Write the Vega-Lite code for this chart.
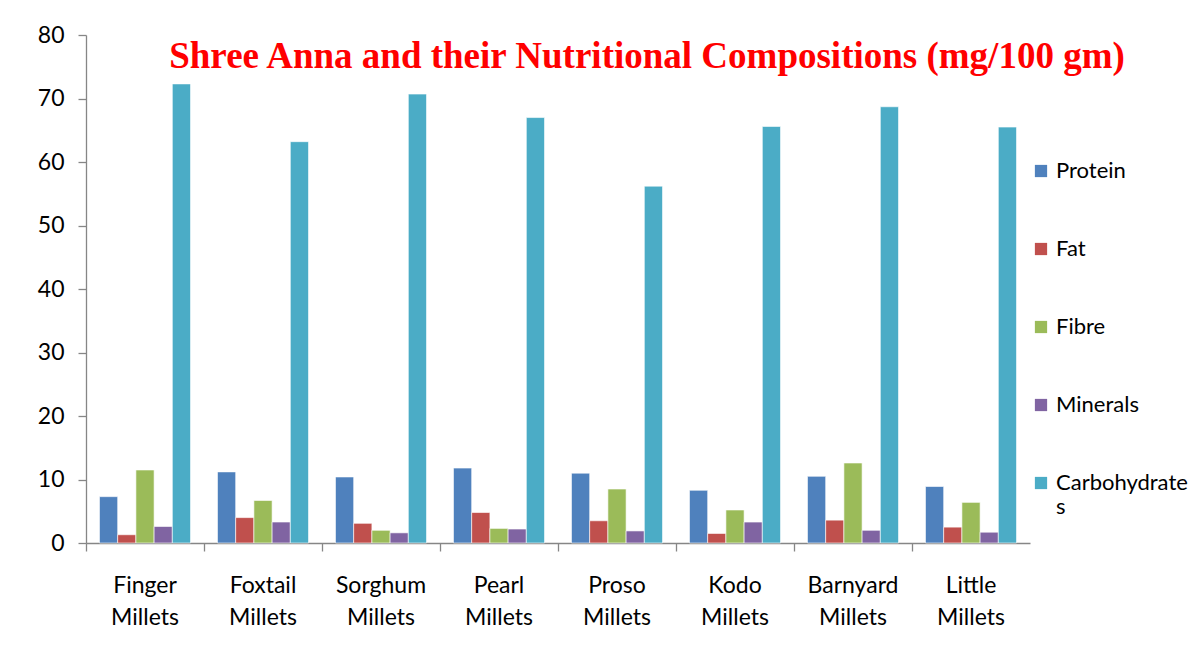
{
  "$schema": "https://vega.github.io/schema/vega-lite/v6.json",
  "autosize": "none",
  "width": 944,
  "height": 508,
  "padding": {"left": 86, "top": 35, "right": 171, "bottom": 113},
  "background": "white",
  "title": {
    "text": "Shree Anna and their Nutritional Compositions (mg/100 gm)",
    "font": "Liberation Serif",
    "fontWeight": "bold",
    "fontSize": 37,
    "color": "#FF0000",
    "anchor": "middle",
    "frame": "group",
    "dx": 89,
    "offset": -52
  },
  "data": {
    "values": [
      {"millet": "Finger Millets", "nutrient": "Protein", "value": 7.3},
      {"millet": "Finger Millets", "nutrient": "Fat", "value": 1.3},
      {"millet": "Finger Millets", "nutrient": "Fibre", "value": 11.5},
      {"millet": "Finger Millets", "nutrient": "Minerals", "value": 2.6},
      {"millet": "Finger Millets", "nutrient": "Carbohydrates", "value": 72.3},
      {"millet": "Foxtail Millets", "nutrient": "Protein", "value": 11.2},
      {"millet": "Foxtail Millets", "nutrient": "Fat", "value": 4.0},
      {"millet": "Foxtail Millets", "nutrient": "Fibre", "value": 6.7},
      {"millet": "Foxtail Millets", "nutrient": "Minerals", "value": 3.3},
      {"millet": "Foxtail Millets", "nutrient": "Carbohydrates", "value": 63.2},
      {"millet": "Sorghum Millets", "nutrient": "Protein", "value": 10.4},
      {"millet": "Sorghum Millets", "nutrient": "Fat", "value": 3.1},
      {"millet": "Sorghum Millets", "nutrient": "Fibre", "value": 2.0},
      {"millet": "Sorghum Millets", "nutrient": "Minerals", "value": 1.6},
      {"millet": "Sorghum Millets", "nutrient": "Carbohydrates", "value": 70.7},
      {"millet": "Pearl Millets", "nutrient": "Protein", "value": 11.8},
      {"millet": "Pearl Millets", "nutrient": "Fat", "value": 4.8},
      {"millet": "Pearl Millets", "nutrient": "Fibre", "value": 2.3},
      {"millet": "Pearl Millets", "nutrient": "Minerals", "value": 2.2},
      {"millet": "Pearl Millets", "nutrient": "Carbohydrates", "value": 67.0},
      {"millet": "Proso Millets", "nutrient": "Protein", "value": 11.0},
      {"millet": "Proso Millets", "nutrient": "Fat", "value": 3.5},
      {"millet": "Proso Millets", "nutrient": "Fibre", "value": 8.5},
      {"millet": "Proso Millets", "nutrient": "Minerals", "value": 1.9},
      {"millet": "Proso Millets", "nutrient": "Carbohydrates", "value": 56.2},
      {"millet": "Kodo Millets", "nutrient": "Protein", "value": 8.3},
      {"millet": "Kodo Millets", "nutrient": "Fat", "value": 1.5},
      {"millet": "Kodo Millets", "nutrient": "Fibre", "value": 5.2},
      {"millet": "Kodo Millets", "nutrient": "Minerals", "value": 3.3},
      {"millet": "Kodo Millets", "nutrient": "Carbohydrates", "value": 65.6},
      {"millet": "Barnyard Millets", "nutrient": "Protein", "value": 10.5},
      {"millet": "Barnyard Millets", "nutrient": "Fat", "value": 3.6},
      {"millet": "Barnyard Millets", "nutrient": "Fibre", "value": 12.6},
      {"millet": "Barnyard Millets", "nutrient": "Minerals", "value": 2.0},
      {"millet": "Barnyard Millets", "nutrient": "Carbohydrates", "value": 68.7},
      {"millet": "Little Millets", "nutrient": "Protein", "value": 8.9},
      {"millet": "Little Millets", "nutrient": "Fat", "value": 2.5},
      {"millet": "Little Millets", "nutrient": "Fibre", "value": 6.4},
      {"millet": "Little Millets", "nutrient": "Minerals", "value": 1.7},
      {"millet": "Little Millets", "nutrient": "Carbohydrates", "value": 65.5}
    ]
  },
  "mark": {"type": "bar", "stroke": "#ffffff", "strokeWidth": 1, "strokeOpacity": 0.6},
  "encoding": {
    "x": {
      "field": "millet",
      "type": "nominal",
      "sort": null,
      "scale": {"paddingInner": 0, "paddingOuter": 0},
      "axis": {
        "title": null,
        "labelAngle": 0,
        "bandPosition": 0,
        "labelExpr": "split(datum.label, ' ')",
        "labelFont": "Lato",
        "labelFontSize": 23,
        "labelColor": "#000000",
        "labelLineHeight": 32,
        "labelPadding": 23,
        "domainColor": "#868686",
        "tickColor": "#868686",
        "tickSize": 8,
        "domainWidth": 1.3,
        "tickWidth": 1.3
      }
    },
    "xOffset": {
      "field": "nutrient",
      "type": "nominal",
      "sort": ["Protein", "Fat", "Fibre", "Minerals", "Carbohydrates"],
      "scale": {"paddingInner": 0, "paddingOuter": 0.74}
    },
    "y": {
      "field": "value",
      "type": "quantitative",
      "scale": {"domain": [0, 80], "nice": false},
      "axis": {
        "title": null,
        "values": [0, 10, 20, 30, 40, 50, 60, 70, 80],
        "grid": false,
        "labelFont": "Lato",
        "labelFontSize": 23,
        "labelColor": "#000000",
        "labelPadding": 14,
        "domainColor": "#868686",
        "tickColor": "#868686",
        "tickSize": 8,
        "domainWidth": 1.3,
        "tickWidth": 1.3
      }
    },
    "color": {
      "field": "nutrient",
      "type": "nominal",
      "sort": ["Protein", "Fat", "Fibre", "Minerals", "Carbohydrates"],
      "scale": {
        "domain": ["Protein", "Fat", "Fibre", "Minerals", "Carbohydrates"],
        "range": ["#4F81BD", "#C0504D", "#9BBB59", "#8064A2", "#4BACC6"]
      },
      "legend": {
        "title": null,
        "orient": "none",
        "legendX": 944,
        "legendY": 125,
        "symbolType": "square",
        "symbolSize": 150,
        "symbolStrokeWidth": 0,
        "labelFont": "Lato",
        "labelFontSize": 22,
        "labelColor": "#000000",
        "labelOffset": 4,
        "labelLimit": 400,
        "rowPadding": 56,
        "labelExpr": "datum.label == 'Carbohydrates' ? ['Carbohydrate', 's'] : datum.label"
      }
    }
  },
  "config": {
    "view": {"stroke": null}
  }
}
